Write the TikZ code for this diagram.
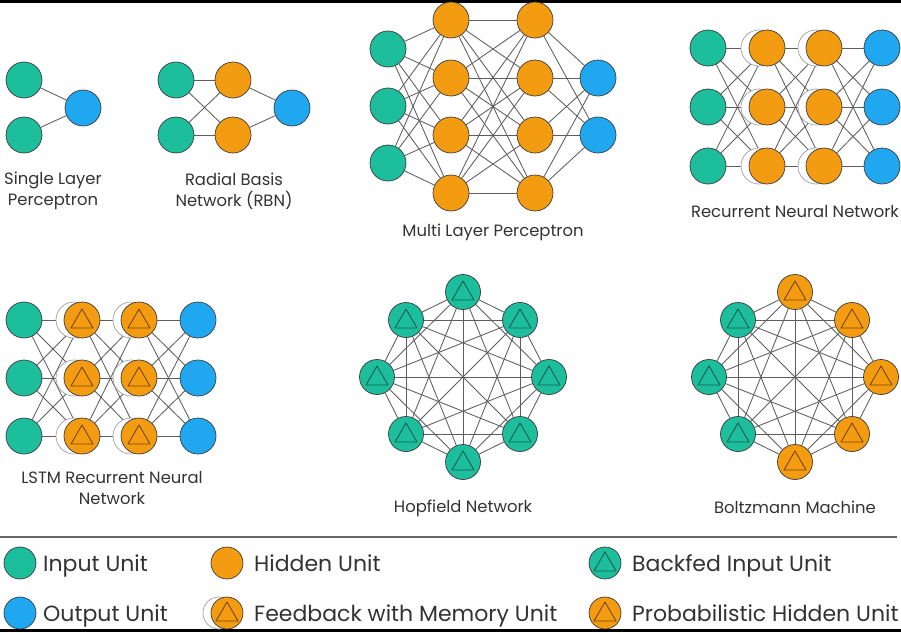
\documentclass[tikz,border=0pt]{standalone}
\usepackage{fontspec}
\setmainfont{Poppins}
\usetikzlibrary{calc}
\pgfdeclarelayer{paper}
\pgfdeclarelayer{bg}
\pgfsetlayers{paper,bg,main}
\definecolor{tealc}{HTML}{1DBE9C}
\definecolor{orc}{HTML}{F39C12}
\definecolor{bluc}{HTML}{1FA8F0}
\definecolor{olc}{HTML}{3A3A3A}
\definecolor{edgec}{HTML}{5E5E5E}
\definecolor{ghc}{HTML}{A0A0A0}
\definecolor{tdark}{HTML}{145E4F}
\definecolor{odark}{HTML}{7A4408}
\definecolor{txtc}{HTML}{333333}
\begin{document}
\begin{tikzpicture}[x=1pt,y=-1pt,
  unit/.style={circle, draw=olc, line width=0.7pt, minimum size=36pt, inner sep=0pt},
  inp/.style={unit, fill=tealc},
  hid/.style={unit, fill=orc},
  outp/.style={unit, fill=bluc},
  ttri/.style={path picture={\draw[line width=0.9pt, draw=tdark, line join=round]
     ($(path picture bounding box.center)+(0pt,11pt)$) -- ($(path picture bounding box.center)+(-11pt,-8pt)$) -- ($(path picture bounding box.center)+(11pt,-8pt)$) -- cycle;}},
  otri/.style={path picture={\draw[line width=0.9pt, draw=odark, line join=round]
     ($(path picture bounding box.center)+(0pt,11pt)$) -- ($(path picture bounding box.center)+(-11pt,-8pt)$) -- ($(path picture bounding box.center)+(11pt,-8pt)$) -- cycle;}},
  backfed/.style={inp, ttri},
  prob/.style={hid, otri},
  ghost/.style={circle, draw=ghc, line width=0.7pt, fill=white, minimum size=36pt, inner sep=0pt},
  link/.style={draw=edgec, line width=0.85pt},
  lab/.style={text=txtc, font=\fontsize{16.4}{21}\selectfont, align=center},
  lgtext/.style={text=txtc, font=\fontsize{22}{26}\selectfont, anchor=base west, inner sep=0pt},
  sepline/.style={draw=black!60, line width=1.3pt}
]
\useasboundingbox (0,0) rectangle (901,632);
\begin{pgfonlayer}{paper}
\fill[white] (0,0) rectangle (901,632);
\fill[black] (0,0) rectangle (901,2.5);
\fill[black] (0,628.8) rectangle (901,632);
\end{pgfonlayer}

% ---------- Single layer perceptron
\node[inp] (s-i1) at (24,80) {};
\node[inp] (s-i2) at (24,135) {};
\node[outp] (s-o) at (83,108) {};
\node[lab] (s-lab) at (53,191) {Single Layer\\Perceptron};
\begin{pgfonlayer}{bg}
\draw[link] (s-i1) -- (s-o);
\draw[link] (s-i2) -- (s-o);
\end{pgfonlayer}

% ---------- RBN
\node[inp] (b-i1) at (176,80) {};
\node[inp] (b-i2) at (176,135) {};
\node[hid] (b-h1) at (233,80) {};
\node[hid] (b-h2) at (233,135) {};
\node[outp] (b-o) at (292,108) {};
\node[lab] (b-lab) at (234,191) {Radial Basis\\Network (RBN)};
\begin{pgfonlayer}{bg}
\foreach \a in {1,2} \foreach \b in {1,2} \draw[link] (b-i\a) -- (b-h\b);
\draw[link] (b-h1) -- (b-o);
\draw[link] (b-h2) -- (b-o);
\end{pgfonlayer}

% ---------- MLP
\foreach \j/\y in {1/49,2/106,3/163} \node[inp] (m-i\j) at (388,\y) {};
\foreach \j/\y in {1/20,2/78,3/135,4/193} {
  \node[hid] (m-a\j) at (451,\y) {};
  \node[hid] (m-b\j) at (535,\y) {};
}
\foreach \j/\y in {1/78,2/135} \node[outp] (m-o\j) at (598,\y) {};
\node[lab] (m-lab) at (493,232) {Multi Layer Perceptron};
\begin{pgfonlayer}{bg}
\foreach \a in {1,2,3} \foreach \b in {1,...,4} \draw[link] (m-i\a) -- (m-a\b);
\foreach \a in {1,...,4} \foreach \b in {1,...,4} \draw[link] (m-a\a) -- (m-b\b);
\foreach \a in {1,...,4} \foreach \b in {1,2} \draw[link] (m-b\a) -- (m-o\b);
\end{pgfonlayer}

% ---------- RNN
\foreach \j/\y in {1/48,2/107,3/166} {
  \node[inp] (r-i\j) at (708,\y) {};
  \node[ghost] (r-ga\j) at (759,\y) {};
  \node[hid] (r-a\j) at (767,\y) {};
  \node[ghost] (r-gb\j) at (816,\y) {};
  \node[hid] (r-b\j) at (824,\y) {};
  \node[outp] (r-o\j) at (882,\y) {};
}
\node[lab] (r-lab) at (795,212) {Recurrent Neural Network};
\begin{pgfonlayer}{bg}
\foreach \a in {1,2,3} \foreach \b in {1,2,3} {
  \draw[link] (r-i\a) -- (r-a\b);
  \draw[link] (r-a\a) -- (r-b\b);
  \draw[link] (r-b\a) -- (r-o\b);
}
\end{pgfonlayer}

% ---------- LSTM
\foreach \j/\y in {1/320,2/378,3/436} {
  \node[inp] (l-i\j) at (24,\y) {};
  \node[ghost] (l-ga\j) at (74,\y) {};
  \node[prob] (l-a\j) at (82,\y) {};
  \node[ghost] (l-gb\j) at (131,\y) {};
  \node[prob] (l-b\j) at (139,\y) {};
  \node[outp] (l-o\j) at (198,\y) {};
}
\node[lab] (l-lab) at (112,488) {LSTM Recurrent Neural\\Network};
\begin{pgfonlayer}{bg}
\foreach \a in {1,2,3} \foreach \b in {1,2,3} {
  \draw[link] (l-i\a) -- (l-a\b);
  \draw[link] (l-a\a) -- (l-b\b);
  \draw[link] (l-b\a) -- (l-o\b);
}
\end{pgfonlayer}

% ---------- Hopfield
\foreach \j/\x/\y in {1/463/292,2/520/320,3/549/377,4/520/434,5/463/462,6/406/434,7/377/377,8/406/320}
  \node[backfed, minimum size=35pt] (h-\j) at (\x,\y) {};
\node[lab] (h-lab) at (463,508) {Hopfield Network};

% ---------- Boltzmann
\foreach \j/\x/\y in {1/795/292,2/852/320,3/881/377,4/852/434,5/795/462}
  \node[prob, minimum size=35pt] (z-\j) at (\x,\y) {};
\foreach \j/\x/\y in {6/738/434,7/709/377,8/738/320}
  \node[backfed, minimum size=35pt] (z-\j) at (\x,\y) {};
\node[lab] (z-lab) at (795,507) {Boltzmann Machine};

\begin{pgfonlayer}{bg}
\foreach \a in {1,...,7} {
  \pgfmathtruncatemacro\s{\a+1}
  \foreach \b in {\s,...,8} {
    \draw[link] (h-\a) -- (h-\b);
    \draw[link] (z-\a) -- (z-\b);
  }
}
\end{pgfonlayer}

% ---------- Legend
\coordinate (sep-l) at (0,537);
\coordinate (sep-r) at (897,537);
\draw[sepline] (sep-l) -- (sep-r);

\node[inp, minimum size=32pt] (k-in) at (20,563) {};
\node[lgtext] (k-in-t) at (43,571.5) {Input Unit};
\node[hid, minimum size=32pt] (k-hid) at (227,563) {};
\node[lgtext] (k-hid-t) at (254,571.5) {Hidden Unit};
\node[backfed, minimum size=32pt] (k-bf) at (605,563) {};
\node[lgtext] (k-bf-t) at (632,571.5) {Backfed Input Unit};

\node[outp, minimum size=32pt] (k-out) at (20,613) {};
\node[lgtext] (k-out-t) at (43,621.5) {Output Unit};
\node[ghost, minimum size=32pt] (k-fb-g) at (219,613) {};
\node[prob, minimum size=32pt] (k-fb) at (227,613) {};
\node[lgtext] (k-fb-t) at (254,621.5) {Feedback with Memory Unit};
\node[prob, minimum size=32pt] (k-pr) at (605,613) {};
\node[lgtext] (k-pr-t) at (632,621.5) {Probabilistic Hidden Unit};
\end{tikzpicture}
\end{document}
